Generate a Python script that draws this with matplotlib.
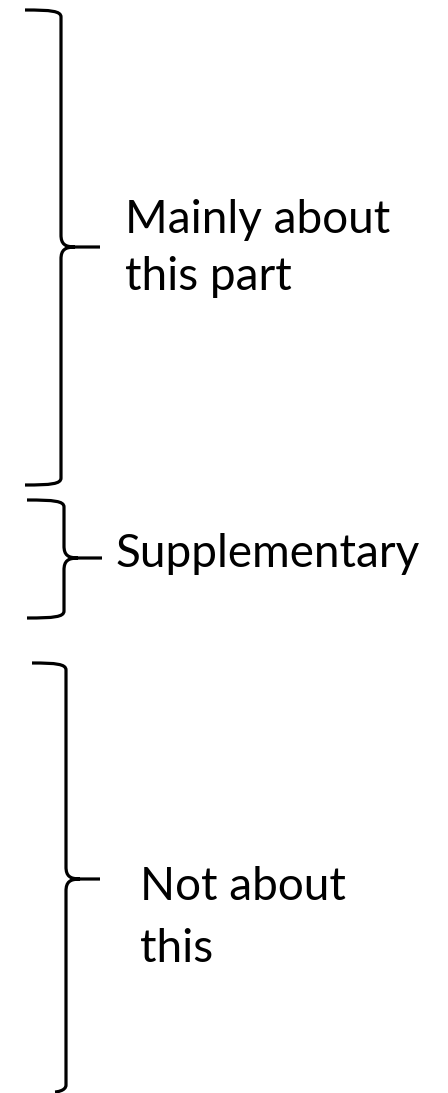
import matplotlib.pyplot as plt
from matplotlib.path import Path
from matplotlib.patches import PathPatch

# braces: (top, middle, bottom) in pixel rows, spine x, left end x top/bottom
brace_top = [10, 500, 663]
brace_mid = [247, 558, 879]
brace_bottom = [485, 618, 1092]
brace_spine = [61, 64, 66]
brace_left_top = [25, 27, 32]
brace_left_bottom = [25, 27, 55]
brace_tip = [100, 102, 100]

labels = [["Mainly about", "this part"], ["Supplementary"], ["Not about", "this"]]
label_x = [125, 116, 140]
label_baselines = [[233, 290], [567], [900, 962]]

W, H = 448, 1093
fig = plt.figure(figsize=(W / 100, H / 100), dpi=100)
ax = fig.add_axes([0, 0, 1, 1])
ax.set_xlim(0, W)
ax.set_ylim(H, 0)
ax.axis("off")


def brace(top, mid, bottom, sx, lt, lb, tip):
    r = 7
    verts = [
        (lt, top), (sx - 10, top), (sx, top + 1), (sx, top + r),
        (sx, mid - 12),
        (sx, mid - 3), (sx + 4, mid), (sx + 14, mid),
        (tip, mid),
        (sx + 14, mid),
        (sx + 4, mid), (sx, mid + 3), (sx, mid + 12),
        (sx, bottom - r),
        (sx, bottom - 1), (sx - 10, bottom), (lb, bottom),
    ]
    codes = [Path.MOVETO, Path.CURVE4, Path.CURVE4, Path.CURVE4,
             Path.LINETO,
             Path.CURVE4, Path.CURVE4, Path.CURVE4,
             Path.LINETO,
             Path.MOVETO,
             Path.CURVE4, Path.CURVE4, Path.CURVE4,
             Path.LINETO,
             Path.CURVE4, Path.CURVE4, Path.CURVE4]
    ax.add_patch(PathPatch(Path(verts, codes), fill=False, lw=2.3,
                           edgecolor="black", capstyle="butt", joinstyle="round"))


for i in range(len(brace_top)):
    brace(brace_top[i], brace_mid[i], brace_bottom[i], brace_spine[i],
          brace_left_top[i], brace_left_bottom[i], brace_tip[i])
    for line, y in zip(labels[i], label_baselines[i]):
        ax.text(label_x[i], y, line, fontsize=33, family="Lato",
                ha="left", va="baseline", color="black")

fig.savefig("out.png", dpi=100)
